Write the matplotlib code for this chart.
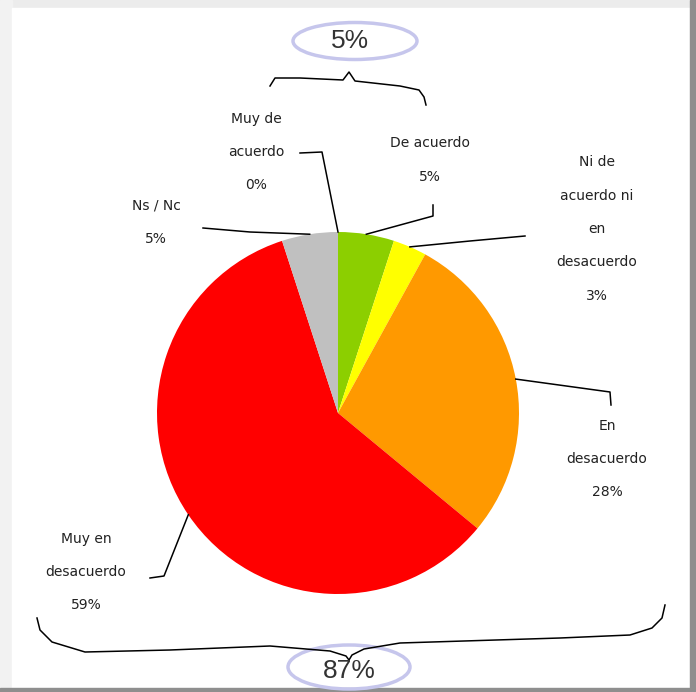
import numpy as np
import matplotlib
matplotlib.use("Agg")
import matplotlib.pyplot as plt
from matplotlib.patches import Ellipse, Rectangle

# categories and values (clockwise from 12 o'clock)
labels = ['Muy de\nacuerdo', 'De acuerdo', 'Ni de\nacuerdo ni\nen\ndesacuerdo',
          'En\ndesacuerdo', 'Muy en\ndesacuerdo', 'Ns / Nc']
values = [0, 5, 3, 28, 59, 5]
colors = ['#6fbf00', '#8ccf00', '#ffff00', '#ff9900', '#ff0000', '#c0c0c0']

# totals shown in the ellipses
top_total = values[0] + values[1]
bottom_total = values[3] + values[4]

# label block centres and leader elbows (pixel coords, y down)
label_pos = [(256, 152), (430, 160), (597, 229), (607, 459), (86, 572), (156, 222)]
elbows = [
    [(300, 153), (322, 152)],
    [(433, 205), (433, 216)],
    [(525, 236), (470, 241)],
    [(611, 405), (610, 392)],
    [(150, 578), (164, 576)],
    [(203, 228), (250, 232)],
]

W, H = 696, 692
fig = plt.figure(figsize=(W / 100, H / 100), dpi=100)
fig.patch.set_facecolor('#ececec')
ax = fig.add_axes([0, 0, 1, 1])

# page frame
ax.add_patch(Rectangle((0, 0), 12, H, color='#f2f2f2', zorder=0))
ax.add_patch(Rectangle((12, 8), 678, 680, color='white', zorder=0))
ax.add_patch(Rectangle((690, 0), 6, H, color='#8e8e8e', zorder=0))
ax.add_patch(Rectangle((0, 688), W, 4, color='#8e8e8e', zorder=0))

center = (338, 413)
radius = 181
wedges, _ = ax.pie(values, colors=colors, startangle=-90, counterclock=True,
                   center=center, radius=radius, frame=True,
                   wedgeprops=dict(linewidth=0))
ax.set_xlim(0, W)
ax.set_ylim(H, 0)
ax.set_aspect('equal')
ax.axis('off')

for w, lab, v, pos, elb in zip(wedges, labels, values, label_pos, elbows):
    ang = np.deg2rad((w.theta1 + w.theta2) / 2)
    px = center[0] + radius * np.cos(ang)
    py = center[1] + radius * np.sin(ang)
    xs = [p[0] for p in elb] + [px]
    ys = [p[1] for p in elb] + [py]
    ax.plot(xs, ys, color='black', lw=1.1, zorder=3)
    ax.text(pos[0], pos[1], f"{lab}\n{v}%", ha='center', va='center',
            fontsize=10, linespacing=2.75, color='#222222', zorder=4)

# braces
top_brace = [(270, 86), (275, 78), (300, 78), (343, 80), (349, 72), (355, 81),
             (400, 86), (419, 90), (424, 97), (426, 105)]
ax.plot(*zip(*top_brace), color='black', lw=1.1)
bottom_brace = [(37, 618), (40, 630), (52, 642), (85, 652), (170, 650), (270, 646),
                (330, 651), (346, 656), (349, 660), (352, 655), (364, 649), (400, 643),
                (560, 638), (630, 635), (652, 628), (662, 618), (665, 605)]
ax.plot(*zip(*bottom_brace), color='black', lw=1.1)

# ellipses with totals
ax.add_patch(Ellipse((355, 41), 124, 37, fill=False, edgecolor='#c6c6ec', lw=2.5))
ax.text(350, 41, f"{top_total}%", ha='center', va='center', fontsize=19,
        family='Liberation Sans', color='#333333')
ax.add_patch(Ellipse((349, 667), 122, 44, fill=False, edgecolor='#c6c6ec', lw=2.5))
ax.text(349, 671, f"{bottom_total}%", ha='center', va='center', fontsize=19,
        family='Liberation Sans', color='#333333')

fig.savefig('out.png', dpi=100, facecolor=fig.get_facecolor())
